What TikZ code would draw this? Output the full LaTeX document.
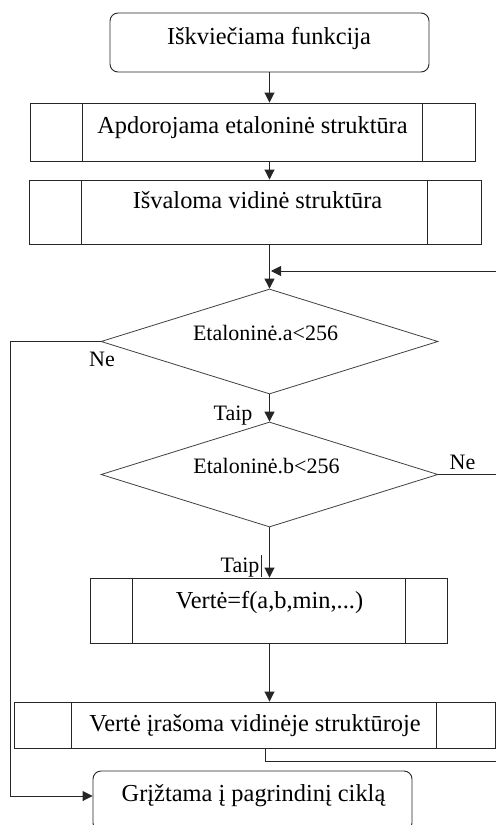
\documentclass[tikz,border=0pt]{standalone}
\usepackage{fontspec}
\setmainfont{Liberation Serif}
\usetikzlibrary{shapes.geometric,arrows.meta}
\begin{document}
\begin{tikzpicture}[x=1pt,y=-1pt,
  line/.style={draw=black!85, line width=0.9pt},
  arr/.style={line, -{Triangle[length=10pt,width=10pt]}},
  boxs/.style={draw=black!85, line width=0.9pt, rectangle, inner sep=0pt},
  rbox/.style={boxs, rounded corners=8pt},
  dia/.style={diamond, draw=black!75, line width=0.8pt, inner sep=0pt, minimum width=337pt, minimum height=105pt, shape aspect=3.2},
  big/.style={font=\fontsize{24.4}{28}\selectfont, anchor=base, inner sep=0pt},
  small/.style={font=\fontsize{22}{26}\selectfont, anchor=base, inner sep=0pt}]
\fill[white] (0,0) rectangle (496,825);
\useasboundingbox (0,0) rectangle (496,825);

% shapes
\node[rbox, minimum width=319pt, minimum height=59pt] (start) at (269.5,42.5) {};
\node[boxs, minimum width=445pt, minimum height=58pt] (b2) at (252.5,132) {};
\node[boxs, minimum width=452pt, minimum height=64pt] (b3) at (255,212) {};
\node[dia] (d1) at (269.5,341.5) {};
\node[dia] (d2) at (269.5,474.5) {};
\node[boxs, minimum width=357pt, minimum height=65pt] (b4) at (268.5,610.5) {};
\node[boxs, minimum width=481pt, minimum height=46pt] (b5) at (254.5,725) {};
\node[rbox, minimum width=319pt, minimum height=60pt] (end) at (252.5,801) {};

% inner lines of process boxes
\draw[line] ([xshift=53pt]b2.north west) -- ([xshift=53pt]b2.south west);
\draw[line] ([xshift=-53pt]b2.north east) -- ([xshift=-53pt]b2.south east);
\draw[line] ([xshift=53pt]b3.north west) -- ([xshift=53pt]b3.south west);
\draw[line] ([xshift=-54pt]b3.north east) -- ([xshift=-54pt]b3.south east);
\draw[line] ([xshift=43pt]b4.north west) -- ([xshift=43pt]b4.south west);
\draw[line] ([xshift=-42pt]b4.north east) -- ([xshift=-42pt]b4.south east);
\draw[line] ([xshift=58pt]b5.north west) -- ([xshift=58pt]b5.south west);
\draw[line] ([xshift=-59pt]b5.north east) -- ([xshift=-59pt]b5.south east);

% texts
\node[big] (t1) at (269,44) {Iškviečiama funkcija};
\node[big] (t2) at (252.5,133) {Apdorojama etaloninė struktūra};
\node[big] (t3) at (257.5,208) {Išvaloma vidinė struktūra};
\node[small] (t4) at (265.5,340) {Etaloninė.a<256};
\node[small] (t5) at (266.5,473) {Etaloninė.b<256};
\node[big] (t6) at (269.5,608) {Vertė=f(a,b,min,...)};
\node[big] (t7) at (255,731) {Vertė įrašoma vidinėje struktūroje};
\node[big] (t8) at (253.5,801) {Grįžtama į pagrindinį ciklą};
\node[small] (ne1) at (102,366) {Ne};
\node[small] (ne2) at (462.5,469) {Ne};
\node[small] (ta1) at (233,420) {Taip};
\node[small] (ta2) at (240,572) {Taip};

% coordinates
\coordinate (r1) at (496,271);
\coordinate (l1) at (10,0);
\coordinate (yend) at (0,796);
\coordinate (lb) at (265,761);

% connectors
\draw[arr] (start.south -| d1.north) -- (b2.north -| d1.north);
\draw[arr] (b2.south -| d1.north) -- (b3.north -| d1.north);
\draw[arr] (b3.south -| d1.north) -- (d1.north);
\draw[arr, shorten >=1.5pt] (r1) -- (r1 -| d1.north);
\draw[arr] (d1.west) -- (d1.west -| l1) |- (end.west |- yend);
\draw[arr] (d1.south) -- (d2.north);
\draw[line] (d2.east) -- (d2.east -| r1);
\draw[arr] (d2.south) -- (d2.south |- b4.north);
\draw[line, line width=0.6pt] (261,555) -- (261,577);
\draw[arr] (b4.south -| d2.south) -- (b5.north -| d2.south);
\draw[line] (b5.south -| lb) -- (lb) -- (lb -| r1);
\end{tikzpicture}
\end{document}
